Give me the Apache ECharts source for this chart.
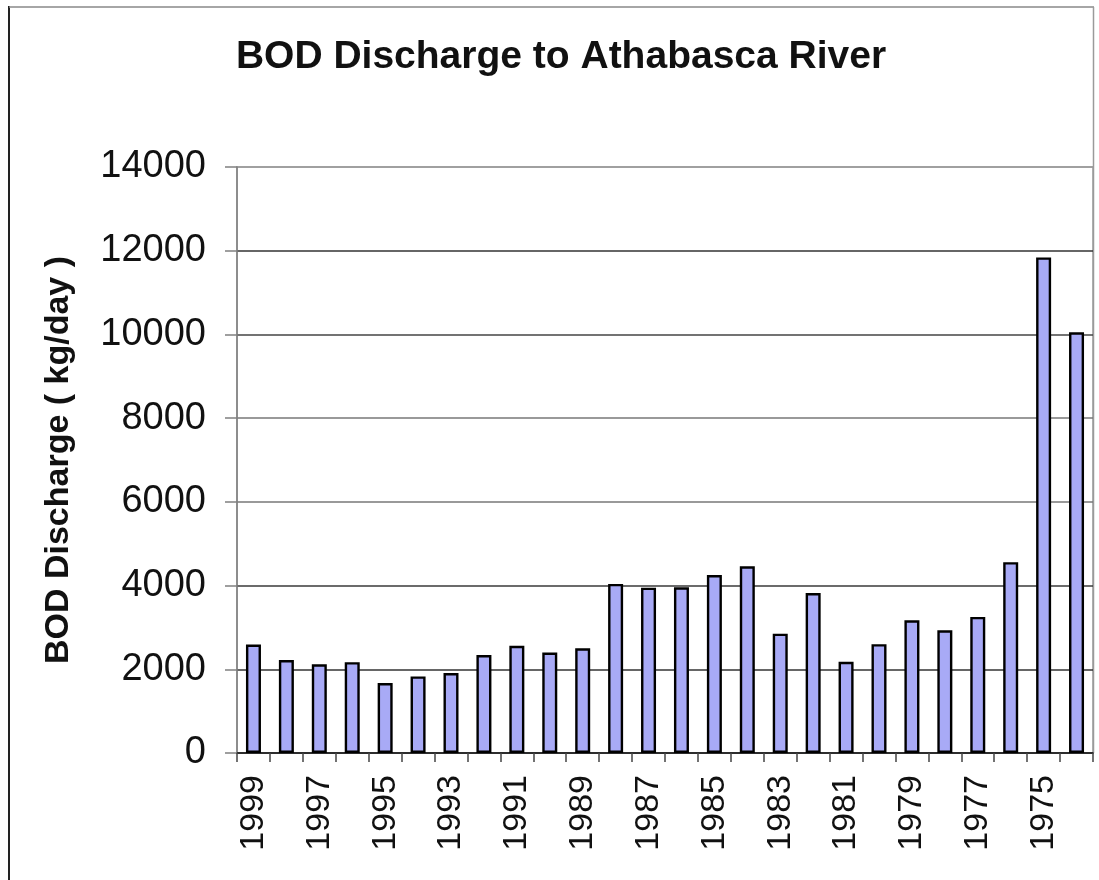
<!DOCTYPE html>
<html>
<head>
<meta charset="utf-8">
<script src="https://cdn.jsdelivr.net/npm/echarts@6/dist/echarts.min.js"></script>
<style>
  html, body { margin: 0; padding: 0; background: #ffffff; }
  #chart { width: 1099px; height: 880px; }
</style>
</head>
<body>
<div id="chart"></div>
<script>
// ---- data ----
const titleText = 'BOD Discharge to Athabasca River';
const yAxisTitle = 'BOD Discharge ( kg/day )';
const years = ['1999','1998','1997','1996','1995','1994','1993','1992','1991','1990','1989','1988','1987',
               '1986','1985','1984','1983','1982','1981','1980','1979','1978','1977','1976','1975','1974'];
const bodDischarge = [2590, 2220, 2120, 2170, 1670, 1830, 1910, 2340, 2560, 2400, 2500, 4040, 3950,
                      3960, 4250, 4460, 2850, 3820, 2180, 2600, 3170, 2930, 3250, 4560, 11840, 10050];
const yMin = 0, yMax = 14000, yStep = 2000;

const FONT = '"Liberation Sans", Arial, Helvetica, sans-serif';
const chart = echarts.init(document.getElementById('chart'), null, { renderer: 'canvas' });

chart.setOption({
  backgroundColor: '#ffffff',
  animation: false,
  title: {
    text: titleText,
    left: 556,
    top: 33,
    textAlign: 'center',
    textStyle: { fontFamily: FONT, fontSize: 39, fontWeight: 'bold', color: '#111' }
  },
  grid: {
    left: 237, right: 6, top: 167, bottom: 127,
    show: true, borderColor: '#9a9a9a', borderWidth: 1.5, backgroundColor: 'transparent'
  },
  xAxis: {
    type: 'category',
    data: years,
    boundaryGap: true,
    axisLine: { lineStyle: { color: '#222', width: 1.5 } },
    axisTick: { show: true, interval: 0, length: 9, lineStyle: { color: '#444', width: 1.5 } },
    axisLabel: {
      interval: 1, rotate: 90, margin: 22,
      fontFamily: FONT, fontSize: 34, color: '#111'
    },
    splitLine: { show: false }
  },
  yAxis: {
    type: 'value',
    min: yMin, max: yMax, interval: yStep,
    name: yAxisTitle,
    nameLocation: 'middle',
    nameGap: 161,
    nameTextStyle: { fontFamily: FONT, fontSize: 34, fontWeight: 'bold', color: '#111' },
    axisLine: { show: true, lineStyle: { color: '#808080', width: 1.5 } },
    axisTick: { show: true, length: 12, lineStyle: { color: '#808080', width: 1.5 } },
    axisLabel: {
      margin: 31, fontFamily: FONT, fontSize: 38, color: '#111',
      formatter: function (v) { return String(v); }
    },
    splitLine: {
      show: true,
      lineStyle: { color: ['#333', '#333', '#3a3a3a', '#777', '#777', '#444', '#333', '#9a9a9a'], width: 1.5 }
    }
  },
  graphic: [
    { type: 'line', shape: { x1: 9, y1: 6, x2: 9, y2: 880 }, style: { stroke: '#222', lineWidth: 2 }, silent: true },
    { type: 'line', shape: { x1: 9, y1: 7, x2: 1094, y2: 7 }, style: { stroke: '#888', lineWidth: 1.5 }, silent: true },
    { type: 'line', shape: { x1: 1093.5, y1: 7, x2: 1093.5, y2: 753 }, style: { stroke: '#9a9a9a', lineWidth: 1.5 }, silent: true }
  ],
  series: [{
    type: 'bar',
    data: bodDischarge,
    barWidth: 15,
    itemStyle: { color: '#a8aaf6', borderColor: '#000', borderWidth: 2.4 }
  }]
});
</script>
</body>
</html>
